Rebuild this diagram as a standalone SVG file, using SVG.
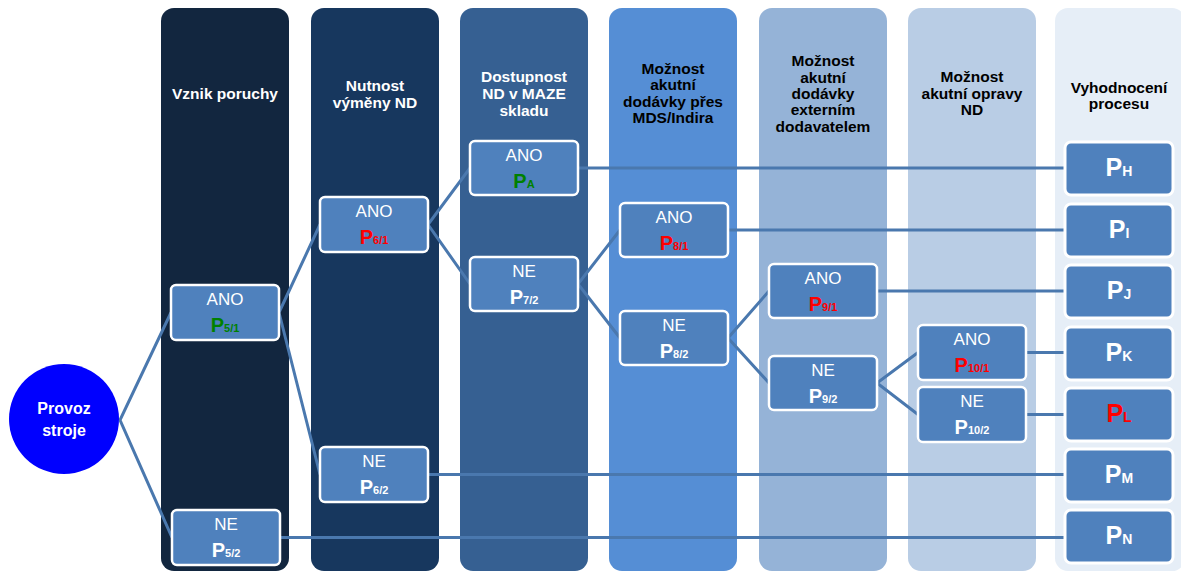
<svg xmlns="http://www.w3.org/2000/svg" width="1181" height="571" viewBox="0 0 1181 571">
  <style>
    .hdr { font-family: "Liberation Sans", Arial, sans-serif; font-weight: bold; font-size: 15.5px; text-anchor: middle; }
    .hw { fill: #ffffff; }
    .hb { fill: #000000; }
    .box { fill: #4F81BD; stroke: #ffffff; stroke-width: 2.5; }
    .res { fill: #4F81BD; stroke: #ffffff; stroke-width: 3; }
    .ans { font-family: "Liberation Sans", Arial, sans-serif; font-size: 17px; fill: #ffffff; text-anchor: middle; }
    .p { font-family: "Liberation Sans", Arial, sans-serif; font-weight: bold; font-size: 20px; text-anchor: middle; fill: #ffffff; }
    .pr { font-family: "Liberation Sans", Arial, sans-serif; font-weight: bold; font-size: 25px; text-anchor: middle; fill: #ffffff; }
    .sub { font-size: 11px; }
    .subr { font-size: 14px; }
    .g { fill: #008000; }
    .r { fill: #FF0000; }
    .conn line, .conn polyline { stroke: #4A78AE; stroke-width: 3; fill: none; }
  </style>

  <!-- column panels -->
  <g id="columns">
    <rect x="161" y="8" width="128" height="563" rx="13" fill="#12263F"/>
    <rect x="311" y="8" width="128" height="563" rx="13" fill="#17375E"/>
    <rect x="460" y="8" width="128" height="563" rx="13" fill="#366092"/>
    <rect x="609" y="8" width="128" height="563" rx="13" fill="#558ED5"/>
    <rect x="759" y="8" width="128" height="563" rx="13" fill="#95B3D7"/>
    <rect x="908" y="8" width="128" height="563" rx="13" fill="#B9CDE5"/>
    <rect x="1055" y="8" width="130" height="563" rx="13" fill="#E6EEF7"/>
  </g>

  <!-- column headings -->
  <g id="headings">
    <text class="hdr hw" x="225" y="99">Vznik poruchy</text>
    <text class="hdr hw" x="375" y="91">Nutnost</text>
    <text class="hdr hw" x="375" y="108">výměny ND</text>
    <text class="hdr hw" x="524" y="82">Dostupnost</text>
    <text class="hdr hw" x="524" y="99">ND v MAZE</text>
    <text class="hdr hw" x="524" y="116">skladu</text>
    <text class="hdr hb" x="673" y="74">Možnost</text>
    <text class="hdr hb" x="673" y="90">akutní</text>
    <text class="hdr hb" x="673" y="107">dodávky přes</text>
    <text class="hdr hb" x="673" y="123">MDS/Indira</text>
    <text class="hdr hb" x="823" y="66">Možnost</text>
    <text class="hdr hb" x="823" y="83">akutní</text>
    <text class="hdr hb" x="823" y="99">dodávky</text>
    <text class="hdr hb" x="823" y="115">externím</text>
    <text class="hdr hb" x="823" y="132">dodavatelem</text>
    <text class="hdr hb" x="972" y="82">Možnost</text>
    <text class="hdr hb" x="972" y="99">akutní opravy</text>
    <text class="hdr hb" x="972" y="115">ND</text>
    <text class="hdr hb" x="1119" y="93">Vyhodnocení</text>
    <text class="hdr hb" x="1119" y="109">procesu</text>
  </g>

  <!-- connectors -->
  <g id="connectors" class="conn">
    <polyline points="171,312.5 120,420 172,537.5"/>
    <polyline points="320,224.5 279,312.5 320,474.5"/>
    <polyline points="470,168 428,224.5 470,284"/>
    <polyline points="620,230 578,284 620,338"/>
    <polyline points="769,291 728,338 769,383"/>
    <polyline points="918,352.5 877,383 918,414.5"/>
    <line x1="280" y1="537.5" x2="1065" y2="537.5"/>
    <line x1="428" y1="474.5" x2="1065" y2="474.5"/>
    <line x1="578" y1="168" x2="1065" y2="168"/>
    <line x1="728" y1="230" x2="1065" y2="230"/>
    <line x1="877" y1="291" x2="1065" y2="291"/>
    <line x1="1026" y1="352.5" x2="1065" y2="352.5"/>
    <line x1="1026" y1="414.5" x2="1065" y2="414.5"/>
  </g>

  <!-- start node -->
  <g id="provoz">
    <circle cx="64" cy="419" r="55" fill="#0000FF"/>
    <text class="hdr hw" x="64" y="414" style="font-size:16px">Provoz</text>
    <text class="hdr hw" x="64" y="436" style="font-size:16px">stroje</text>
  </g>

  <!-- decision nodes -->
  <g id="n51">
    <rect class="box" x="171" y="285" width="108" height="55" rx="5"/>
    <text class="ans" x="225" y="305">ANO</text>
    <text class="p g" x="225" y="332">P<tspan class="sub">5/1</tspan></text>
  </g>
  <g id="n52">
    <rect class="box" x="172" y="510" width="108" height="55" rx="5"/>
    <text class="ans" x="226" y="530">NE</text>
    <text class="p" x="226" y="557">P<tspan class="sub">5/2</tspan></text>
  </g>
  <g id="n61">
    <rect class="box" x="320" y="197" width="108" height="55" rx="5"/>
    <text class="ans" x="374" y="217">ANO</text>
    <text class="p r" x="374" y="244">P<tspan class="sub">6/1</tspan></text>
  </g>
  <g id="n62">
    <rect class="box" x="320" y="447" width="108" height="55" rx="5"/>
    <text class="ans" x="374" y="467">NE</text>
    <text class="p" x="374" y="494">P<tspan class="sub">6/2</tspan></text>
  </g>
  <g id="nA">
    <rect class="box" x="470" y="141" width="108" height="54" rx="5"/>
    <text class="ans" x="524" y="161">ANO</text>
    <text class="p g" x="524" y="188">P<tspan class="sub">A</tspan></text>
  </g>
  <g id="n72">
    <rect class="box" x="470" y="257" width="108" height="54" rx="5"/>
    <text class="ans" x="524" y="277">NE</text>
    <text class="p" x="524" y="304">P<tspan class="sub">7/2</tspan></text>
  </g>
  <g id="n81">
    <rect class="box" x="620" y="203" width="108" height="54" rx="5"/>
    <text class="ans" x="674" y="223">ANO</text>
    <text class="p r" x="674" y="250">P<tspan class="sub">8/1</tspan></text>
  </g>
  <g id="n82">
    <rect class="box" x="620" y="311" width="108" height="54" rx="5"/>
    <text class="ans" x="674" y="331">NE</text>
    <text class="p" x="674" y="358">P<tspan class="sub">8/2</tspan></text>
  </g>
  <g id="n91">
    <rect class="box" x="769" y="264" width="108" height="54" rx="5"/>
    <text class="ans" x="823" y="284">ANO</text>
    <text class="p r" x="823" y="311">P<tspan class="sub">9/1</tspan></text>
  </g>
  <g id="n92">
    <rect class="box" x="769" y="356" width="108" height="54" rx="5"/>
    <text class="ans" x="823" y="376">NE</text>
    <text class="p" x="823" y="403">P<tspan class="sub">9/2</tspan></text>
  </g>
  <g id="n101">
    <rect class="box" x="918" y="325" width="108" height="55" rx="5"/>
    <text class="ans" x="972" y="345">ANO</text>
    <text class="p r" x="972" y="372">P<tspan class="sub">10/1</tspan></text>
  </g>
  <g id="n102">
    <rect class="box" x="918" y="387" width="108" height="55" rx="5"/>
    <text class="ans" x="972" y="407">NE</text>
    <text class="p" x="972" y="434">P<tspan class="sub">10/2</tspan></text>
  </g>

  <!-- outcome nodes -->
  <g id="rH">
    <rect class="res" x="1065" y="142" width="108" height="53" rx="6"/>
    <text class="pr" x="1119" y="176">P<tspan class="subr">H</tspan></text>
  </g>
  <g id="rI">
    <rect class="res" x="1065" y="204" width="108" height="53" rx="6"/>
    <text class="pr" x="1119" y="238">P<tspan class="subr">I</tspan></text>
  </g>
  <g id="rJ">
    <rect class="res" x="1065" y="265" width="108" height="53" rx="6"/>
    <text class="pr" x="1119" y="299">P<tspan class="subr">J</tspan></text>
  </g>
  <g id="rK">
    <rect class="res" x="1065" y="327" width="108" height="53" rx="6"/>
    <text class="pr" x="1119" y="361">P<tspan class="subr">K</tspan></text>
  </g>
  <g id="rL">
    <rect class="res" x="1065" y="388" width="108" height="53" rx="6"/>
    <text class="pr r" x="1119" y="422">P<tspan class="subr">L</tspan></text>
  </g>
  <g id="rM">
    <rect class="res" x="1065" y="449" width="108" height="53" rx="6"/>
    <text class="pr" x="1119" y="483">P<tspan class="subr">M</tspan></text>
  </g>
  <g id="rN">
    <rect class="res" x="1065" y="510" width="108" height="53" rx="6"/>
    <text class="pr" x="1119" y="544">P<tspan class="subr">N</tspan></text>
  </g>
</svg>
